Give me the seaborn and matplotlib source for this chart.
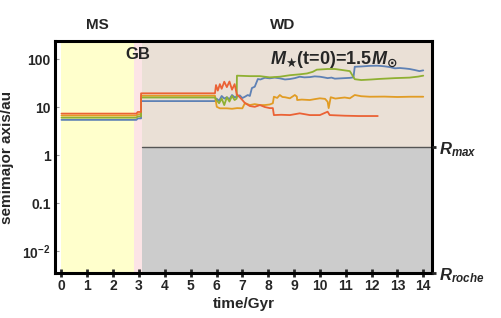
import pandas as pd
import numpy as np
import matplotlib.pyplot as plt
import matplotlib.transforms as mtransforms
import seaborn as sns

# semimajor axis (au) vs time (Gyr) for the four planets
t_blue = [0, 2.9, 2.95, 3.08, 3.08, 5.94, 6.0, 6.1, 6.2, 6.3, 6.4, 6.5, 6.6, 6.7, 6.8, 6.9, 7.0, 7.1, 7.21,
          7.29, 7.37, 7.48, 7.6, 7.7, 7.87, 8.06, 8.25, 8.45, 8.65, 8.84, 9.03, 9.22, 9.4, 9.61, 9.8, 10.0,
          10.15, 10.3, 10.45, 10.58, 10.77, 10.96, 11.16, 11.3, 11.35, 11.6, 11.93, 12.24, 12.5, 12.7,
          12.9, 13.09, 13.3, 13.47, 13.67, 13.85, 14.0]
a_blue = [5.4, 5.4, 5.8, 5.8, 13.3, 13.3, 15.0, 13.5, 17.0, 15.0, 16.0, 14.5, 17.8, 16.0, 16.4, 17.5, 15.4,
          16.4, 17.8, 17.0, 24.9, 26.5, 38.3, 37.5, 40.7, 39.6, 41.0, 39.6, 37.5, 38.3, 40.0, 42.8, 41.5,
          42.0, 43.5, 42.8, 41.5, 40.0, 41.0, 39.0, 39.5, 40.0, 40.5, 41.5, 69.0, 70.0, 72.0, 72.6, 70.5,
          68.0, 64.0, 65.0, 63.5, 62.0, 59.0, 56.0, 58.0]

t_orange = [0, 2.9, 2.95, 3.08, 3.08, 5.94, 6.01, 6.13, 6.4, 6.6, 6.8, 7.0, 7.1, 7.29, 7.48, 7.68, 7.87,
            8.06, 8.18, 8.22, 8.35, 8.45, 8.55, 8.65, 8.84, 9.03, 9.11, 9.12, 9.3, 9.61, 9.8, 10.0, 10.2,
            10.3, 10.34, 10.42, 10.6, 10.77, 10.96, 11.16, 11.35, 11.6, 11.93, 12.5, 13.0, 13.5, 14.0]
a_orange = [6.65, 6.65, 7.1, 7.1, 17.2, 17.2, 10.1, 9.4, 9.4, 9.2, 9.5, 9.4, 12.1, 11.0, 11.5, 11.0, 11.0,
            11.3, 12.0, 16.4, 15.5, 17.8, 16.2, 16.0, 15.2, 17.8, 16.5, 14.0, 14.3, 14.0, 14.6, 15.2, 14.8,
            12.9, 9.5, 16.0, 15.0, 15.4, 15.8, 15.2, 17.8, 16.8, 16.4, 16.5, 16.2, 16.4, 16.4]

t_green = [0, 2.9, 2.95, 3.08, 3.08, 5.94, 6.0, 6.1, 6.2, 6.3, 6.4, 6.5, 6.6, 6.7, 6.78, 6.79, 7.29, 7.68,
           8.06, 8.45, 8.84, 9.22, 9.5, 9.72, 9.88, 10.1, 10.3, 10.58, 10.96, 11.16, 11.35, 11.6, 12.0,
           12.3, 12.9, 13.47, 13.8, 14.0]
a_green = [6.0, 6.0, 6.4, 6.4, 15.8, 15.8, 14.0, 12.0, 15.0, 11.0, 16.0, 13.0, 17.0, 14.0, 15.0, 45.0,
           44.0, 44.0, 41.5, 42.8, 46.0, 48.0, 50.0, 54.0, 60.0, 61.0, 62.0, 62.0, 58.0, 56.0, 38.0, 36.5,
           37.5, 38.5, 40.0, 41.0, 43.0, 45.0]

t_red = [0, 2.9, 2.95, 3.08, 3.08, 5.94, 5.98, 6.05, 6.13, 6.2, 6.3, 6.4, 6.5, 6.6, 6.7, 6.79, 6.82, 7.0,
         7.1, 7.29, 7.48, 7.68, 7.87, 8.06, 8.18, 8.22, 8.5, 8.84, 9.22, 9.61, 10.0, 10.3, 10.38, 10.96,
         11.5, 12.24]
a_red = [7.3, 7.3, 7.9, 7.9, 19.3, 19.3, 28.7, 22.0, 30.0, 24.0, 33.7, 26.0, 34.0, 23.0, 30.0, 18.0, 17.8,
         14.0, 12.1, 10.5, 10.1, 11.0, 10.0, 9.5, 9.5, 6.8, 6.9, 6.8, 7.4, 6.8, 6.8, 8.0, 6.8, 6.6, 6.5,
         6.5]

planets = ["blue", "orange", "green", "red"]
colors = ["#5E81B5", "#E19C24", "#8FB032", "#EB6235"]

# phase boundaries (Gyr) and limits
ms_end = 2.8
gb_end = 3.1
t_end = 14.33
r_max = 1.45
r_roche = 0.0035
x_ticks = list(range(0, 15))
y_ticks = [100, 10, 1, 0.1, 0.01]
y_labels = ["100", "10", "1", "0.1", "$\\mathbf{10^{-2}}$"]

frames = []
for name, t, a in zip(planets, [t_blue, t_orange, t_green, t_red], [a_blue, a_orange, a_green, a_red]):
    frames.append(pd.DataFrame({"time": t, "a": a, "planet": name}))
df = pd.concat(frames, ignore_index=True)

sns.set_style("ticks")
plt.rcParams['font.family'] = ['Liberation Sans', 'DejaVu Sans']
plt.rcParams['font.weight'] = 'bold'
plt.rcParams['mathtext.fontset'] = 'custom'
plt.rcParams['mathtext.rm'] = 'Liberation Sans:bold'
plt.rcParams['mathtext.bf'] = 'Liberation Sans:bold'
plt.rcParams['mathtext.it'] = 'Liberation Sans:italic:bold'
plt.rcParams['mathtext.bfit'] = 'Liberation Sans:italic:bold'
plt.rcParams['mathtext.sf'] = 'DejaVu Sans:bold'

fig = plt.figure(figsize=(5.01, 3.18), dpi=100)
ax = fig.add_axes([0.1098, 0.1415, 0.752, 0.7295])

# phase backgrounds
ax.axvspan(0, ms_end, color="#FFFFCC", lw=0, zorder=0)
ax.axvspan(ms_end, gb_end, color="#FCE4E6", lw=0, zorder=0)
ax.axvspan(gb_end, t_end, color="#EAE0D6", lw=0, zorder=0)
ax.fill_between([gb_end, t_end], r_roche, r_max, color="#CCCCCC", lw=0, zorder=0.5)
ax.plot([gb_end, t_end], [r_max, r_max], color="#555555", lw=1.0, zorder=0.6)

sns.lineplot(data=df, x="time", y="a", hue="planet", hue_order=planets,
             palette=dict(zip(planets, colors)), estimator=None, sort=False,
             lw=1.3, legend=False, ax=ax, zorder=3)

ax.set_yscale("log")
ax.set_xlim(-0.25, t_end)
ax.set_ylim(r_roche, 237)
ax.set_xticks(x_ticks)
ax.set_xticklabels([str(v) for v in x_ticks], fontsize=10, fontweight="bold")
ax.set_yticks(y_ticks)
ax.set_yticklabels(y_labels, fontsize=10, fontweight="bold")
ax.yaxis.set_minor_locator(plt.NullLocator())
ax.tick_params(axis="x", direction="inout", length=6, width=2, pad=1)
ax.tick_params(axis="y", direction="in", length=3, width=0.8, color="#999999", pad=3)
for s in ax.spines.values():
    s.set_linewidth(2.2)
    s.set_color("black")

ax.set_xlabel("time/Gyr", fontsize=11, fontweight="bold", labelpad=3)
ax.set_ylabel("semimajor axis/au", fontsize=11, fontweight="bold", labelpad=6)

# right-side reference levels
ax2 = ax.twinx()
ax2.set_yscale("log")
ax2.set_ylim(ax.get_ylim())
ax2.set_yticks([r_max, r_roche])
ax2.set_yticklabels(["$R_{max}$", "$R_{roche}$"], fontsize=12)
ax2.yaxis.set_minor_locator(plt.NullLocator())
ax2.tick_params(axis="y", direction="out", length=3, width=2, pad=2)
for s in ax2.spines.values():
    s.set_visible(False)

# phase labels
trans = mtransforms.blended_transform_factory(ax.transData, ax.transAxes)
ax.text(ms_end / 2, 1.04, "MS", transform=trans, ha="center", va="bottom", fontsize=11, fontweight="bold")
ax.text((gb_end + 14) / 2, 1.04, "WD", transform=trans, ha="center", va="bottom", fontsize=11, fontweight="bold")
ax.text((ms_end + gb_end) / 2, 0.975, "GB", transform=trans, ha="center", va="top", fontsize=12, fontweight="bold")
ax.text(0.74, 0.965, "$\\mathbfit{M}_{\\mathsf{★}}$(t=0)=1.5$\\mathbfit{M}_{\\mathsf{⊙}}$", transform=ax.transAxes,
        ha="center", va="top", fontsize=13, fontweight="bold")

fig.savefig("out.png", dpi=100)
